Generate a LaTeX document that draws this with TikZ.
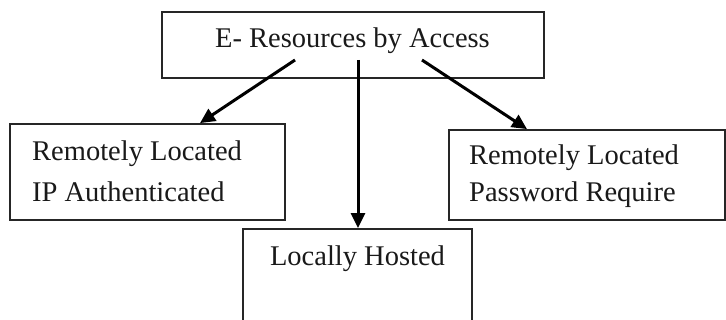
\documentclass[tikz,border=0pt]{standalone}
\usepackage{fontspec}
\setmainfont{Liberation Serif}
\usetikzlibrary{arrows.meta}
\begin{document}
\begin{tikzpicture}[x=1pt,y=-1pt,
  box/.style={draw=black!85,line width=1.8pt,inner sep=0pt},
  lbl/.style={inner sep=0pt,anchor=base west,font=\fontsize{28.5}{34}\selectfont,text=black!90},
  conn/.style={line width=3pt,-{Triangle[length=15pt,width=14pt]}}]
\useasboundingbox (0,0) rectangle (726,320);
\node[box,minimum width=382pt,minimum height=66pt] (top) at (353,45) {};
\node[box,minimum width=275pt,minimum height=96pt] (left) at (147.5,172) {};
\node[box,minimum width=276pt,minimum height=90pt] (right) at (587,175) {};
\node[box,minimum width=229pt,minimum height=110pt] (bot) at (357.5,284) {};
\node[lbl] (tt) at (215,48) {E- Resources by Access};
\node[lbl] (l1) at (32,161) {Remotely Located};
\node[lbl] (l2) at (32,202) {IP Authenticated};
\node[lbl] (r1) at (469,165) {Remotely Located};
\node[lbl] (r2) at (469,202) {Password Require};
\node[lbl,anchor=base] (b1) at (357.5,266) {Locally Hosted};
\coordinate (sL) at (295,60);
\coordinate (sM) at (358,60);
\coordinate (sR) at (422,60);
\coordinate (eL) at ([xshift=52.5pt]left.north);
\coordinate (eM) at ([xshift=0.5pt]bot.north);
\coordinate (eR) at ([xshift=-60pt]right.north);
\draw[conn] (sL) -- (eL);
\draw[conn] (sM) -- (eM);
\draw[conn] (sR) -- (eR);
\end{tikzpicture}
\end{document}
